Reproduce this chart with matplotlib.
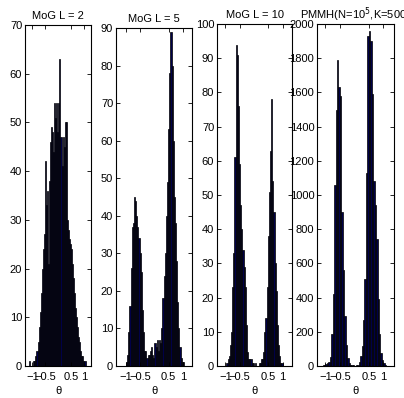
import matplotlib.pyplot as plt
import numpy as np

plt.rcParams['font.family'] = ['Liberation Sans', 'DejaVu Sans']
plt.rcParams['font.size'] = 8

# --- MoG L = 2 (bin width 0.04, first centre -1.10)
c1 = np.round(np.arange(-1.10, 1.07, 0.04), 2)
h1 = [1, 0, 0, 0, 1, 1, 2, 3, 5, 8, 11, 15, 20, 24, 27, 42, 33, 36, 21, 38,
      46, 49, 48, 44, 54, 51, 54, 48, 54, 63, 47, 41, 47, 45, 50, 50, 30, 28,
      26, 25, 24, 21, 18, 15, 12, 10, 8, 6, 5, 3, 2, 2, 1, 1, 0]

# --- MoG L = 5 (bin width 0.04, first centre -1.02)
c2 = np.round(np.arange(-1.02, 1.03, 0.04), 2)
h2 = [0, 1, 3, 9, 16, 26, 37, 38, 45, 44, 40, 37, 34, 30, 25, 15, 9, 4, 4, 2,
      3, 3, 4, 5, 3, 2, 6, 5, 7, 4, 7, 6, 10, 18, 24, 30, 40, 49, 63, 78,
      89, 80, 60, 45, 38, 28, 17, 10, 5, 2, 1, 1]

# --- MoG L = 10 (bin width 0.04, first centre -0.98)
c3 = np.round(np.arange(-0.98, 1.03, 0.04), 2)
h3 = [0, 1, 2, 3, 6, 10, 23, 33, 61, 94, 91, 76, 59, 47, 40, 34, 29, 23, 12, 4,
      2, 2, 2, 1, 1, 0, 1, 0, 0, 1, 1, 2, 2, 4, 10, 14, 23, 38, 51, 63,
      78, 54, 45, 30, 22, 12, 6, 3, 1, 1, 0]

# --- PMMH (bin width 0.05, first centre -1.075)
c4 = np.round(np.arange(-1.075, 1.13, 0.05), 3)
h4 = [3, 8, 12, 16, 25, 55, 190, 420, 1060, 1500, 1790, 1630, 1580, 900, 560,
      290, 120, 45, 15, 8, 5, 3, 2, 3, 6, 22, 60, 115, 270, 510, 1130, 1930,
      1960, 1900, 1590, 1080, 940, 740, 390, 190, 75, 35, 15, 6, 2]

titles = ['MoG L = 2', 'MoG L = 5', 'MoG L = 10', r'PMMH(N=10$^5$,K=500)']
ymax = [70, 90, 100, 2000]
ystep = [10, 10, 10, 200]
xlims = [(-1.28, 1.25), (-1.35, 1.32), (-1.29, 1.33), (-1.29, 1.37)]

# pixel boxes (left, top, right, bottom) measured from the 404x398 image
boxes = [(25, 25, 91, 366), (116, 28, 192, 366), (217, 24, 292, 366), (317, 24, 394, 366)]
W, H = 404, 398

fig = plt.figure(figsize=(W / 100, H / 100), dpi=100)

data = [(c1, h1, 0.04), (c2, h2, 0.04), (c3, h3, 0.04), (c4, h4, 0.05)]
for i, (c, h, w) in enumerate(data):
    l, t, r, b = boxes[i]
    ax = fig.add_axes([l / W, 1 - b / H, (r - l) / W, (b - t) / H])
    ax.bar(c[:len(h)], h, width=w, color='#000048', edgecolor='black', linewidth=0.5)
    ax.set_xlim(*xlims[i])
    ax.set_ylim(0, ymax[i])
    ax.set_xticks([-1, -0.5, 0.5, 1])
    ax.set_xticklabels(['\u22121', '\u22120.5', '0.5', '1'])
    ax.set_yticks(np.arange(0, ymax[i] + 1, ystep[i]))
    ax.tick_params(direction='in', top=True, right=True, length=3, width=0.6,
                   labelsize=8)
    ax.tick_params(axis='x', pad=4)
    ax.tick_params(axis='y', pad=2)
    for s in ax.spines.values():
        s.set_linewidth(0.8)
    ax.set_title(titles[i], fontsize=8, pad=4)
    ax.set_xlabel('\u03b8', fontsize=8, labelpad=3)

fig.savefig('out.png', dpi=100)
